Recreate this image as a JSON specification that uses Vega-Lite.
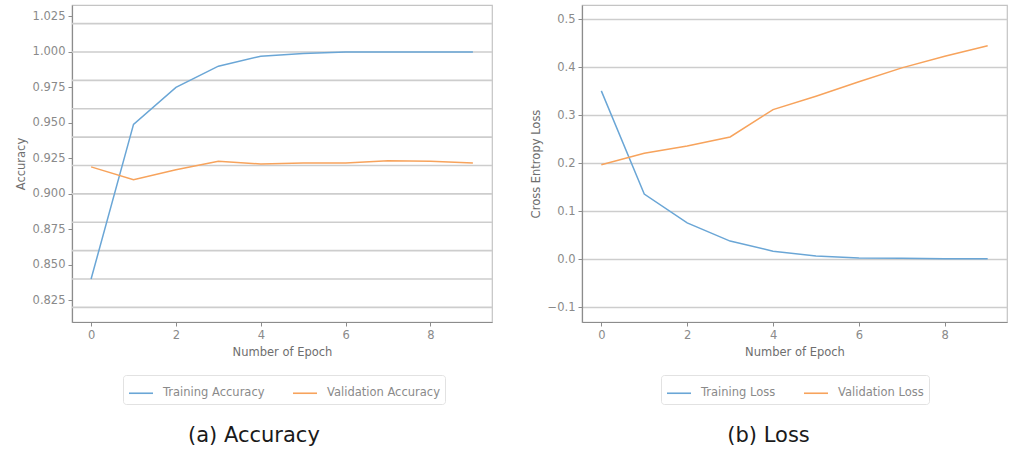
{
  "$schema": "https://vega.github.io/schema/vega-lite/v6.json",
  "padding": {"left": 14, "top": 4, "right": 0, "bottom": 0},
  "background": "white",
  "config": {
    "font": "DejaVu Sans",
    "view": {"stroke": "#c4c4c4", "strokeWidth": 1.2},
    "axis": {
      "labelFont": "DejaVu Sans", "labelFontSize": 11.5, "labelColor": "#8a8a8a",
      "titleFont": "DejaVu Sans", "titleFontSize": 11.5, "titleFontWeight": "normal", "titleColor": "#6e6e6e",
      "domainColor": "#8c8c8c", "domainWidth": 1.2, "tickColor": "#8c8c8c", "tickSize": 4, "labelPadding": 3,
      "grid": false
    },
    "legend": {
      "orient": "none", "direction": "horizontal", "columns": 2, "title": null,
      "symbolType": "stroke", "symbolSize": 576, "symbolStrokeWidth": 1.6,
      "labelFont": "DejaVu Sans", "labelFontSize": 11.5, "labelColor": "#8a8a8a", "labelOffset": 9,
      "columnPadding": 24, "padding": 5, "strokeColor": "#e2e2e2", "cornerRadius": 3, "fillColor": "white"
    },
    "title": {"font": "DejaVu Sans", "fontSize": 21, "fontWeight": "normal", "color": "#1a1a1a"}
  },
  "datasets": {
    "accuracy": [
      {"epoch": 0, "series": "Training Accuracy", "value": 0.840},
      {"epoch": 1, "series": "Training Accuracy", "value": 0.949},
      {"epoch": 2, "series": "Training Accuracy", "value": 0.975},
      {"epoch": 3, "series": "Training Accuracy", "value": 0.990},
      {"epoch": 4, "series": "Training Accuracy", "value": 0.997},
      {"epoch": 5, "series": "Training Accuracy", "value": 0.999},
      {"epoch": 6, "series": "Training Accuracy", "value": 1.000},
      {"epoch": 7, "series": "Training Accuracy", "value": 1.000},
      {"epoch": 8, "series": "Training Accuracy", "value": 1.000},
      {"epoch": 9, "series": "Training Accuracy", "value": 1.000},
      {"epoch": 0, "series": "Validation Accuracy", "value": 0.919},
      {"epoch": 1, "series": "Validation Accuracy", "value": 0.910},
      {"epoch": 2, "series": "Validation Accuracy", "value": 0.917},
      {"epoch": 3, "series": "Validation Accuracy", "value": 0.923},
      {"epoch": 4, "series": "Validation Accuracy", "value": 0.921},
      {"epoch": 5, "series": "Validation Accuracy", "value": 0.9218},
      {"epoch": 6, "series": "Validation Accuracy", "value": 0.9218},
      {"epoch": 7, "series": "Validation Accuracy", "value": 0.9233},
      {"epoch": 8, "series": "Validation Accuracy", "value": 0.923},
      {"epoch": 9, "series": "Validation Accuracy", "value": 0.9218}
    ],
    "accuracyGrid": [
      {"g": 0.82}, {"g": 0.84}, {"g": 0.86}, {"g": 0.88}, {"g": 0.90}, {"g": 0.92},
      {"g": 0.94}, {"g": 0.96}, {"g": 0.98}, {"g": 1.00}, {"g": 1.02}
    ],
    "loss": [
      {"epoch": 0, "series": "Training Loss", "value": 0.351},
      {"epoch": 1, "series": "Training Loss", "value": 0.136},
      {"epoch": 2, "series": "Training Loss", "value": 0.076},
      {"epoch": 3, "series": "Training Loss", "value": 0.038},
      {"epoch": 4, "series": "Training Loss", "value": 0.017},
      {"epoch": 5, "series": "Training Loss", "value": 0.007},
      {"epoch": 6, "series": "Training Loss", "value": 0.003},
      {"epoch": 7, "series": "Training Loss", "value": 0.002},
      {"epoch": 8, "series": "Training Loss", "value": 0.001},
      {"epoch": 9, "series": "Training Loss", "value": 0.001},
      {"epoch": 0, "series": "Validation Loss", "value": 0.197},
      {"epoch": 1, "series": "Validation Loss", "value": 0.221},
      {"epoch": 2, "series": "Validation Loss", "value": 0.236},
      {"epoch": 3, "series": "Validation Loss", "value": 0.255},
      {"epoch": 4, "series": "Validation Loss", "value": 0.312},
      {"epoch": 5, "series": "Validation Loss", "value": 0.340},
      {"epoch": 6, "series": "Validation Loss", "value": 0.370},
      {"epoch": 7, "series": "Validation Loss", "value": 0.399},
      {"epoch": 8, "series": "Validation Loss", "value": 0.423},
      {"epoch": 9, "series": "Validation Loss", "value": 0.445}
    ]
  },
  "resolve": {"scale": {"color": "independent"}, "legend": {"color": "independent"}},
  "spacing": 35,
  "hconcat": [
    {
      "width": 420,
      "height": 317,
      "title": {"text": "(a) Accuracy", "orient": "bottom", "anchor": "middle", "frame": "bounds", "offset": 20},
      "layer": [
        {
          "data": {"name": "accuracyGrid"},
          "mark": {"type": "rule", "color": "#cdcdcd", "strokeWidth": 1.6},
          "encoding": {
            "y": {
              "field": "g", "type": "quantitative",
              "scale": {"domain": [0.8097, 1.0331], "nice": false, "zero": false},
              "axis": {"title": "Accuracy", "values": [0.825, 0.85, 0.875, 0.9, 0.925, 0.95, 0.975, 1.0, 1.025], "format": ".3f", "titlePadding": 6}
            }
          }
        },
        {
          "data": {"name": "accuracy"},
          "mark": {"type": "line", "strokeWidth": 1.5},
          "encoding": {
            "x": {
              "field": "epoch", "type": "quantitative",
              "scale": {"domain": [-0.45, 9.45], "nice": false, "zero": false},
              "axis": {"title": "Number of Epoch", "values": [0, 2, 4, 6, 8], "titlePadding": 6}
            },
            "y": {
              "field": "value", "type": "quantitative",
              "axis": {"title": "Accuracy", "values": [0.825, 0.85, 0.875, 0.9, 0.925, 0.95, 0.975, 1.0, 1.025], "format": ".3f", "titlePadding": 6}
            },
            "color": {
              "field": "series", "type": "nominal",
              "scale": {"domain": ["Training Accuracy", "Validation Accuracy"], "range": ["#6aa6d6", "#f7a35c"]},
              "legend": {"legendX": 51, "legendY": 370}
            }
          }
        }
      ]
    },
    {
      "width": 425,
      "height": 317,
      "title": {"text": "(b) Loss", "orient": "bottom", "anchor": "middle", "frame": "bounds", "offset": 20},
      "data": {"name": "loss"},
      "mark": {"type": "line", "strokeWidth": 1.5},
      "encoding": {
        "x": {
          "field": "epoch", "type": "quantitative",
          "scale": {"domain": [-0.45, 9.45], "nice": false, "zero": false},
          "axis": {"title": "Number of Epoch", "values": [0, 2, 4, 6, 8], "titlePadding": 6}
        },
        "y": {
          "field": "value", "type": "quantitative",
          "scale": {"domain": [-0.1306, 0.53], "nice": false, "zero": false},
          "axis": {
            "title": "Cross Entropy Loss", "values": [-0.1, 0, 0.1, 0.2, 0.3, 0.4, 0.5], "format": ".1f",
            "grid": true, "gridColor": "#cdcdcd", "gridWidth": 1.6, "titlePadding": 6
          }
        },
        "color": {
          "field": "series", "type": "nominal",
          "scale": {"domain": ["Training Loss", "Validation Loss"], "range": ["#6aa6d6", "#f7a35c"]},
          "legend": {"legendX": 79, "legendY": 370}
        }
      }
    }
  ]
}
